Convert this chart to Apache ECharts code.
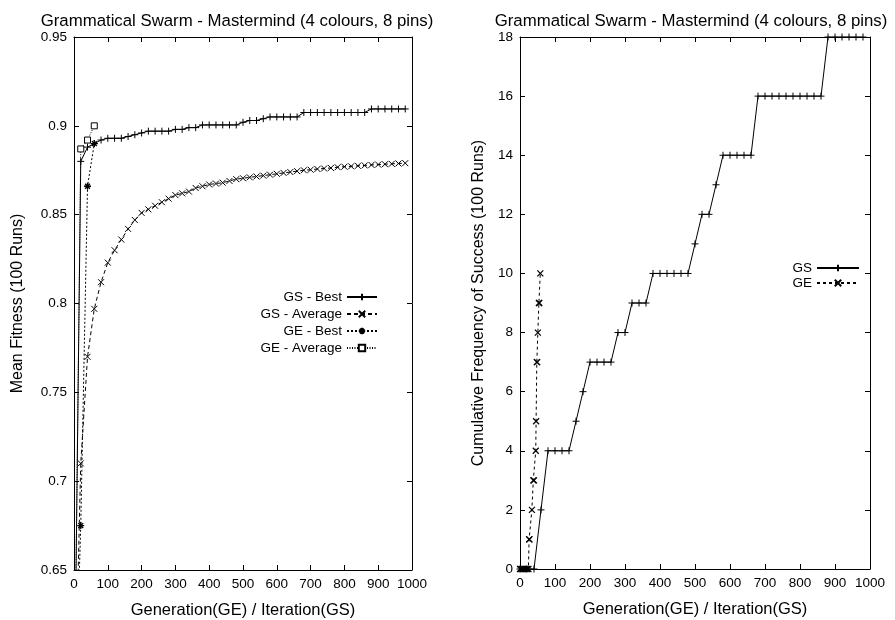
<!DOCTYPE html>
<html>
<head>
<meta charset="utf-8">
<script src="https://cdn.jsdelivr.net/npm/echarts@6/dist/echarts.min.js"></script>
<style>html,body{margin:0;padding:0;background:#fff}#c{width:895px;height:620px}</style>
</head>
<body>
<div id="c"></div>
<script>
// ---- data ----
const titleText = 'Grammatical Swarm - Mastermind (4 colours, 8 pins)';
const xName = 'Generation(GE) / Iteration(GS)';
const leftYName = 'Mean Fitness (100 Runs)';
const rightYName = 'Cumulative Frequency of Success (100 Runs)';

const gsIter = [0,20,40,60,80,100,120,140,160,180,200,220,240,260,280,300,320,340,360,380,400,420,440,460,480,500,520,540,560,580,600,620,640,660,680,700,720,740,760,780,800,820,840,860,880,900,920,940,960,980];
const gsBest = [0.55,0.880,0.888,0.890,0.892,0.893,0.893,0.893,0.894,0.895,0.896,0.897,0.897,0.897,0.897,0.898,0.898,0.899,0.899,0.9005,0.9005,0.9005,0.9005,0.9005,0.9005,0.902,0.903,0.903,0.904,0.905,0.905,0.905,0.905,0.905,0.9075,0.9075,0.9075,0.9075,0.9075,0.9075,0.9075,0.9075,0.9075,0.9075,0.9095,0.9095,0.9095,0.9095,0.9095,0.9095];
const gsAvg = [0.55,0.710,0.770,0.797,0.812,0.823,0.830,0.836,0.842,0.847,0.851,0.853,0.855,0.857,0.859,0.861,0.862,0.863,0.865,0.866,0.867,0.8675,0.868,0.869,0.870,0.8705,0.871,0.8715,0.872,0.8725,0.873,0.8735,0.874,0.8745,0.875,0.8753,0.8757,0.876,0.8763,0.8767,0.877,0.8772,0.8775,0.8777,0.878,0.8782,0.8784,0.8786,0.8788,0.879];
const geGen = [0,20,40,60];
const geBest = [0.55,0.675,0.866,0.890];
const geAvg = [0.55,0.887,0.892,0.900];

const gsSuccess = [0,0,0,2,4,4,4,4,5,6,7,7,7,7,8,8,9,9,9,10,10,10,10,10,10,11,12,12,13,14,14,14,14,14,16,16,16,16,16,16,16,16,16,16,18,18,18,18,18,18];
const geSuccGen = [0,4,8,12,16,20,24,26,27,34,38,40,45,46,48,49,51,54,55,58];
const geSuccess = [0,0,0,0,0,0,0,1,1,2,3,3,4,5,7,7,8,9,9,10];

const leftYTicks = ['0.65','0.7','0.75','0.8','0.85','0.9','0.95'];

const pair = (xs, ys) => xs.map((x, i) => [x, ys[i]]);

const FONT = 'Liberation Sans';
const PLUS = 'path://M0,5L10,5M5,0L5,10';
const CROSS = 'path://M0,0L10,10M10,0L0,10';
const STAR = 'path://M5,0L5,10M0,5L10,5M1.5,1.5L8.5,8.5M8.5,1.5L1.5,8.5';
const SQUARE = 'path://M0,0L10,0L10,10L0,10Z';
const TICKFS = 13.5;

function mainX(gi, name) {
  return {
    gridIndex: gi, type: 'value', min: 0, max: 1000, interval: 100, position: 'bottom',
    name: name, nameLocation: 'middle', nameGap: 32,
    nameTextStyle: { fontFamily: FONT, fontSize: 16.5, color: '#000' },
    axisLine: { show: true, onZero: false, lineStyle: { color: '#000', width: 1 } },
    axisTick: { show: true, inside: true, length: 5, lineStyle: { color: '#000' } },
    axisLabel: { fontFamily: FONT, fontSize: TICKFS, color: '#000', margin: 7, formatter: (v) => String(v) },
    splitLine: { show: false }
  };
}
function mirrorX(gi) {
  return {
    gridIndex: gi, type: 'value', min: 0, max: 1000, interval: 100, position: 'top',
    axisLine: { show: true, onZero: false, lineStyle: { color: '#000', width: 1 } },
    axisTick: { show: true, inside: true, length: 5, lineStyle: { color: '#000' } },
    axisLabel: { show: false }, splitLine: { show: false }
  };
}
function mirrorY(gi, min, max, interval) {
  return {
    gridIndex: gi, type: 'value', min: min, max: max, interval: interval, position: 'right',
    axisLine: { show: true, onZero: false, lineStyle: { color: '#000', width: 1 } },
    axisTick: { show: true, inside: true, length: 5, lineStyle: { color: '#000' } },
    axisLabel: { show: false }, splitLine: { show: false }
  };
}

const option = {
  animation: false,
  backgroundColor: '#fff',
  title: [
    { text: titleText, left: 232, top: 8, textAlign: 'center',
      textStyle: { fontFamily: FONT, fontSize: 16.8, fontWeight: 'normal', color: '#000' } },
    { text: titleText, left: 686, top: 8, textAlign: 'center',
      textStyle: { fontFamily: FONT, fontSize: 16.8, fontWeight: 'normal', color: '#000' } }
  ],
  grid: [
    { left: 74, right: 483, top: 37, bottom: 50, containLabel: false, outerBoundsMode: 'none' },
    { left: 520, right: 25, top: 37, bottom: 51, containLabel: false, outerBoundsMode: 'none' }
  ],
  xAxis: [ mainX(0, xName), mirrorX(0), mainX(1, xName), mirrorX(1) ],
  yAxis: [
    { gridIndex: 0, type: 'value', min: 0.65, max: 0.95, interval: 0.05, position: 'left',
      name: leftYName, nameLocation: 'middle', nameGap: 48,
      nameTextStyle: { fontFamily: FONT, fontSize: 16, color: '#000' },
      axisLine: { show: true, onZero: false, lineStyle: { color: '#000', width: 1 } },
      axisTick: { show: true, inside: true, length: 5, lineStyle: { color: '#000' } },
      axisLabel: { fontFamily: FONT, fontSize: TICKFS, color: '#000', margin: 7,
        formatter: (v) => leftYTicks[Math.round((v - 0.65) / 0.05)] },
      splitLine: { show: false } },
    mirrorY(0, 0.65, 0.95, 0.05),
    { gridIndex: 1, type: 'value', min: 0, max: 18, interval: 2, position: 'left',
      name: rightYName, nameLocation: 'middle', nameGap: 33,
      nameTextStyle: { fontFamily: FONT, fontSize: 16, color: '#000' },
      axisLine: { show: true, onZero: false, lineStyle: { color: '#000', width: 1 } },
      axisTick: { show: true, inside: true, length: 5, lineStyle: { color: '#000' } },
      axisLabel: { fontFamily: FONT, fontSize: TICKFS, color: '#000', margin: 7 },
      splitLine: { show: false } },
    mirrorY(1, 0, 18, 2)
  ],
  legend: [
    { data: ['GS - Best', 'GS - Average', 'GE - Best', 'GE - Average'],
      orient: 'vertical', align: 'right', right: 517, top: 290, padding: 0,
      itemWidth: 30, itemHeight: 8, itemGap: 3,
      textStyle: { fontFamily: FONT, fontSize: 13.5, color: '#000', lineHeight: 14 } },
    { data: ['GS', 'GE'],
      orient: 'vertical', align: 'right', right: 35, top: 261, padding: 0,
      itemWidth: 42, itemHeight: 8, itemGap: 1,
      textStyle: { fontFamily: FONT, fontSize: 13.5, color: '#000', lineHeight: 14 } }
  ],
  series: [
    { name: 'GS - Best', type: 'line', xAxisIndex: 0, yAxisIndex: 0, data: pair(gsIter, gsBest),
      symbol: PLUS, symbolSize: 7, showAllSymbol: true, color: '#000',
      lineStyle: { color: '#000', width: 1, type: 'solid' },
      itemStyle: { color: '#000', borderColor: '#000', borderWidth: 1 } },
    { name: 'GS - Average', type: 'line', xAxisIndex: 0, yAxisIndex: 0, data: pair(gsIter, gsAvg),
      symbol: CROSS, symbolSize: 6, showAllSymbol: true, color: '#000',
      lineStyle: { color: '#000', width: 1, type: [4, 3] },
      itemStyle: { color: '#000', borderColor: '#000', borderWidth: 1 } },
    { name: 'GE - Best', type: 'line', xAxisIndex: 0, yAxisIndex: 0, data: pair(geGen, geBest),
      symbol: STAR, symbolSize: 7, showAllSymbol: true, color: '#000',
      lineStyle: { color: '#000', width: 1, type: [2, 2] },
      itemStyle: { color: '#000', borderColor: '#000', borderWidth: 1.3 } },
    { name: 'GE - Average', type: 'line', xAxisIndex: 0, yAxisIndex: 0, data: pair(geGen, geAvg),
      symbol: SQUARE, symbolSize: 6, showAllSymbol: true, color: '#000',
      lineStyle: { color: '#000', width: 1, type: [1, 1.5] },
      itemStyle: { color: '#fff', borderColor: '#000', borderWidth: 1 } },
    { name: 'GS', type: 'line', xAxisIndex: 2, yAxisIndex: 2, data: pair(gsIter, gsSuccess),
      symbol: PLUS, symbolSize: 7, showAllSymbol: true, color: '#000',
      lineStyle: { color: '#000', width: 1, type: 'solid' },
      itemStyle: { color: '#000', borderColor: '#000', borderWidth: 1 } },
    { name: 'GE', type: 'line', xAxisIndex: 2, yAxisIndex: 2, data: pair(geSuccGen, geSuccess),
      symbol: CROSS, symbolSize: 6, showAllSymbol: true, color: '#000',
      lineStyle: { color: '#000', width: 1, type: [3, 3] },
      itemStyle: { color: '#000', borderColor: '#000', borderWidth: 1.2 } }
  ]
};

const chart = echarts.init(document.getElementById('c'), null, { renderer: 'canvas' });
chart.setOption(option);
</script>
</body>
</html>
